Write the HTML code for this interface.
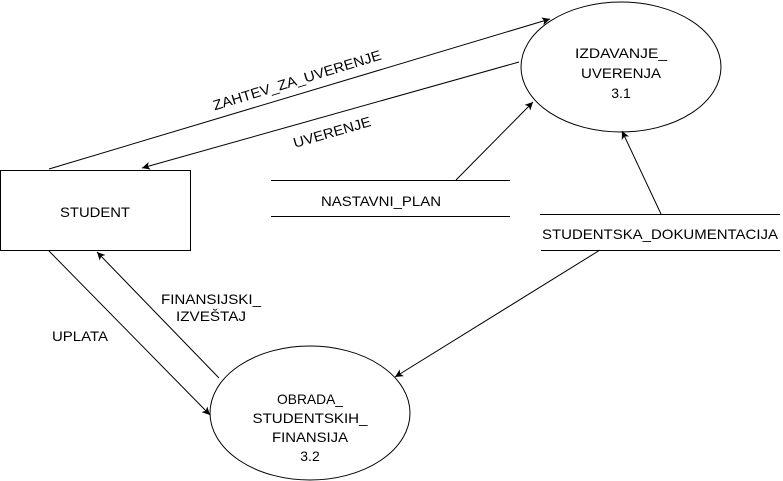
<!DOCTYPE html>
<html><head><meta charset="utf-8"><style>
html,body{margin:0;padding:0;background:#fff;}
svg{display:block}
text{font-family:"Liberation Sans",Arial,sans-serif;font-size:14px;fill:#000}
</style></head><body>
<svg width="783" height="481" viewBox="0 0 783 481" xmlns="http://www.w3.org/2000/svg">
<defs><marker id="a" markerWidth="10" markerHeight="10" refX="8" refY="4" orient="auto" markerUnits="userSpaceOnUse"><path d="M0,0 L8,4 L0,8 L2,4 z" fill="#000"/></marker></defs>
<g stroke="#000" stroke-width="1" fill="none">
<ellipse cx="621" cy="67" rx="100" ry="65" fill="#fff"/>
<ellipse cx="310" cy="413" rx="100" ry="67" fill="#fff"/>
<rect x="0.5" y="170.5" width="190" height="80" fill="#fff"/>
<line x1="271" y1="180.5" x2="510" y2="180.5"/>
<line x1="271" y1="216.5" x2="510" y2="216.5"/>
<line x1="540" y1="214.5" x2="780" y2="214.5"/>
<line x1="541" y1="250.5" x2="780" y2="250.5"/>
<line x1="49" y1="169" x2="550" y2="19" marker-end="url(#a)"/>
<line x1="519" y1="62" x2="142" y2="168" marker-end="url(#a)"/>
<line x1="456" y1="180" x2="533" y2="102" marker-end="url(#a)"/>
<line x1="661" y1="214" x2="622" y2="131" marker-end="url(#a)"/>
<line x1="600" y1="250" x2="395" y2="377" marker-end="url(#a)"/>
<line x1="49" y1="251" x2="210" y2="415" marker-end="url(#a)"/>
<line x1="219" y1="378" x2="97" y2="252" marker-end="url(#a)"/>
</g>
<g text-anchor="middle">
<text x="621" y="58" textLength="92" lengthAdjust="spacingAndGlyphs">IZDAVANJE_</text>
<text x="621" y="78" textLength="80" lengthAdjust="spacingAndGlyphs">UVERENJA</text>
<text x="621" y="98">3.1</text>
<text x="310" y="404" textLength="66" lengthAdjust="spacingAndGlyphs">OBRADA_</text>
<text x="310" y="423" textLength="115" lengthAdjust="spacingAndGlyphs">STUDENTSKIH_</text>
<text x="310" y="442" textLength="76" lengthAdjust="spacingAndGlyphs">FINANSIJA</text>
<text x="310" y="461">3.2</text>
<text x="95" y="217" textLength="70" lengthAdjust="spacingAndGlyphs">STUDENT</text>
<text x="381" y="206" textLength="120" lengthAdjust="spacingAndGlyphs">NASTAVNI_PLAN</text>
<text x="660" y="239" textLength="236" lengthAdjust="spacingAndGlyphs">STUDENTSKA_DOKUMENTACIJA</text>
<text x="211" y="304" textLength="100" lengthAdjust="spacingAndGlyphs">FINANSIJSKI_</text>
<text x="211" y="321" textLength="70" lengthAdjust="spacingAndGlyphs">IZVEŠTAJ</text>
<text x="80" y="341" textLength="56" lengthAdjust="spacingAndGlyphs">UPLATA</text>
<text x="297" y="85" transform="rotate(-17 297 80)" textLength="175" lengthAdjust="spacingAndGlyphs">ZAHTEV_ZA_UVERENJE</text>
<text x="332" y="137" transform="rotate(-16 332 132)" textLength="80" lengthAdjust="spacingAndGlyphs">UVERENJE</text>
</g>
</svg>
</body></html>
